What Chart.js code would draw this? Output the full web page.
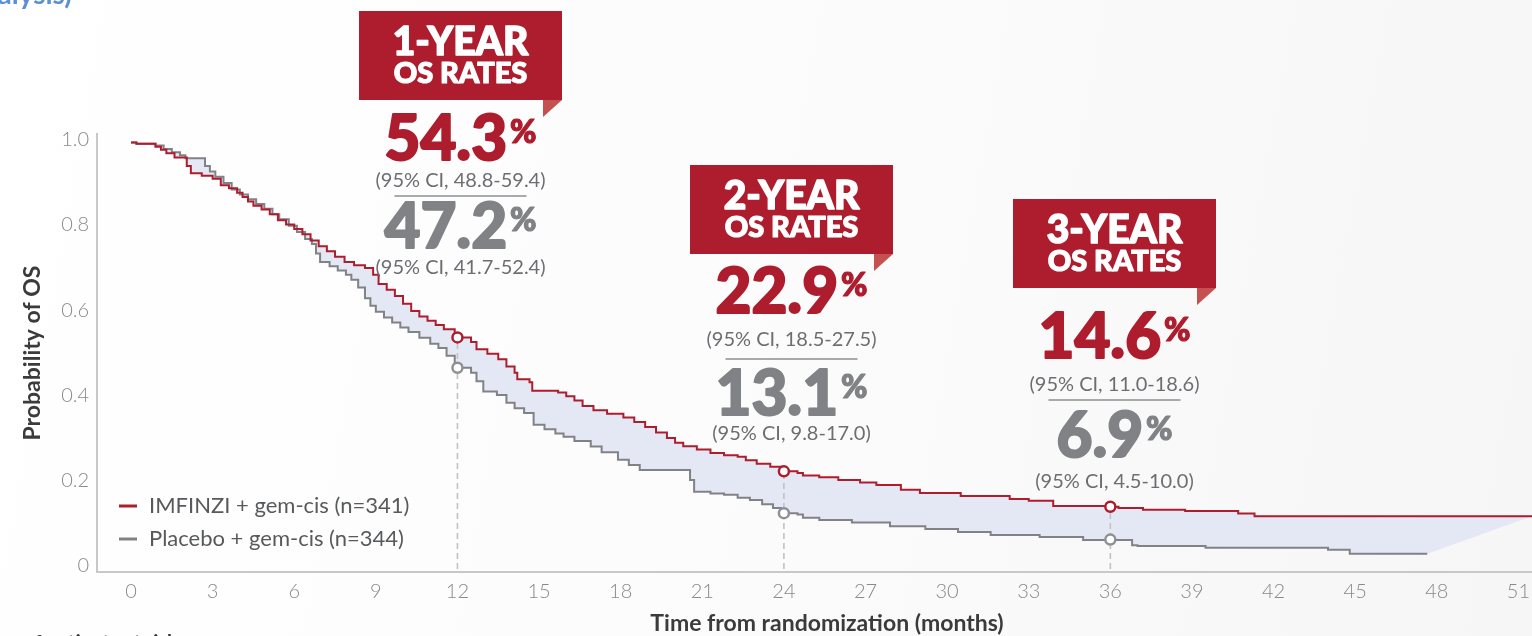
<!DOCTYPE html>
<html>
<head>
<meta charset="utf-8">
<script src="https://cdn.jsdelivr.net/npm/chart.js@4.4.1/dist/chart.umd.min.js"></script>
<style>
  html, body { margin: 0; padding: 0; }
  body {
    width: 1532px; height: 636px; overflow: hidden;
    background: linear-gradient(100deg, #ffffff 0%, #fcfcfc 45%, #f6f6f7 100%);
  }
  #wrap { position: relative; width: 1532px; height: 636px; }
</style>
</head>
<body>
<div id="wrap"><canvas id="osChart" width="1532" height="636"></canvas></div>
<script>
// ----- data -----
const xTicks = [0, 3, 6, 9, 12, 15, 18, 21, 24, 27, 30, 33, 36, 39, 42, 45, 48, 51];
const yTicks = [0, 0.2, 0.4, 0.6, 0.8, 1.0];
const yTickLabels = ["0", "0.2", "0.4", "0.6", "0.8", "1.0"];

// [month, survival] after each step
const imfinziCurve = [
  [0, 1.0], [0.2, 0.997], [0.9, 0.99], [1.1, 0.983], [1.3, 0.975], [1.6, 0.965],
  [2.05, 0.945], [2.2, 0.928], [2.6, 0.922], [3.0, 0.915], [3.3, 0.9], [3.6, 0.893],
  [3.9, 0.882], [4.1, 0.872], [4.3, 0.862], [4.5, 0.852], [4.8, 0.843], [5.1, 0.832],
  [5.4, 0.818], [5.7, 0.808], [6.0, 0.797], [6.3, 0.785], [6.6, 0.77], [6.9, 0.757],
  [7.2, 0.745], [7.5, 0.732], [7.85, 0.72], [8.2, 0.712], [8.6, 0.706], [8.9, 0.69],
  [9.1, 0.668], [9.4, 0.655], [9.7, 0.64], [10.0, 0.622], [10.3, 0.605], [10.6, 0.592],
  [10.9, 0.582], [11.2, 0.572], [11.5, 0.562], [11.9, 0.552], [12.0, 0.543], [12.5, 0.532],
  [12.7, 0.515], [13.1, 0.505], [13.5, 0.492], [13.8, 0.475], [14.1, 0.46], [14.2, 0.445],
  [14.65, 0.438], [14.75, 0.418], [15.7, 0.414], [16.0, 0.405], [16.3, 0.395], [16.6, 0.382],
  [17.0, 0.372], [17.5, 0.364], [18.1, 0.355], [18.5, 0.345], [18.9, 0.333], [19.3, 0.32],
  [19.7, 0.307], [20.0, 0.296], [20.3, 0.288], [20.8, 0.28], [21.3, 0.272], [21.8, 0.267],
  [22.3, 0.263], [22.6, 0.255], [23.0, 0.247], [23.5, 0.24], [23.9, 0.232], [24.0, 0.229],
  [24.5, 0.225], [24.7, 0.219], [25.3, 0.215], [26.0, 0.209], [26.8, 0.203], [27.4, 0.197],
  [28.3, 0.186], [29.0, 0.178], [30.5, 0.171], [32.3, 0.164], [33.0, 0.16], [33.9, 0.148],
  [36.0, 0.146], [36.3, 0.143], [37.2, 0.139], [38.75, 0.136], [40.7, 0.13], [41.3, 0.124],
  [51.5, 0.124]
];

const placeboCurve = [
  [0, 1.0], [0.2, 0.997], [0.9, 0.993], [1.2, 0.985], [1.5, 0.977], [1.8, 0.97],
  [2.0, 0.963], [2.72, 0.945], [2.9, 0.932], [3.1, 0.92], [3.4, 0.905], [3.7, 0.89],
  [4.0, 0.878], [4.3, 0.867], [4.6, 0.856], [4.9, 0.845], [5.2, 0.832], [5.45, 0.82],
  [5.8, 0.805], [6.1, 0.79], [6.4, 0.774], [6.65, 0.762], [6.8, 0.74], [6.95, 0.72],
  [7.3, 0.71], [7.6, 0.7], [7.9, 0.69], [8.1, 0.678], [8.35, 0.66], [8.6, 0.635],
  [8.8, 0.617], [9.0, 0.603], [9.3, 0.59], [9.6, 0.578], [9.9, 0.566], [10.2, 0.556],
  [10.6, 0.542], [11.0, 0.528], [11.3, 0.518], [11.6, 0.5], [11.9, 0.478], [12.0, 0.472],
  [12.5, 0.46], [12.7, 0.44], [12.95, 0.416], [13.45, 0.408], [13.8, 0.39], [14.1, 0.377],
  [14.45, 0.366], [14.8, 0.338], [15.2, 0.328], [15.6, 0.318], [15.9, 0.31], [16.3, 0.3],
  [16.9, 0.287], [17.3, 0.274], [17.9, 0.256], [18.3, 0.244], [18.7, 0.232], [20.55, 0.209],
  [20.7, 0.181], [21.3, 0.177], [21.8, 0.174], [22.3, 0.167], [22.75, 0.162], [23.2, 0.152],
  [23.6, 0.143], [23.9, 0.136], [24.0, 0.131], [24.5, 0.128], [24.7, 0.12], [25.3, 0.115],
  [26.5, 0.109], [27.9, 0.1], [29.2, 0.094], [30.4, 0.087], [31.6, 0.08], [33.4, 0.075],
  [35.0, 0.068], [36.8, 0.056], [37.0, 0.054], [39.5, 0.05], [44.0, 0.045], [44.8, 0.036],
  [47.65, 0.036]
];

const landmarkMonths = [12, 24, 36];
const imfinziRates = [0.543, 0.229, 0.146];
const placeboRates = [0.472, 0.131, 0.069];

const bannerTitles = ["1-YEAR", "2-YEAR", "3-YEAR"];
const imfinziRateText = ["54.3", "22.9", "14.6"];
const imfinziCI = ["(95% CI, 48.8-59.4)", "(95% CI, 18.5-27.5)", "(95% CI, 11.0-18.6)"];
const placeboRateText = ["47.2", "13.1", "6.9"];
const placeboCI = ["(95% CI, 41.7-52.4)", "(95% CI, 9.8-17.0)", "(95% CI, 4.5-10.0)"];

const seriesLabels = ["IMFINZI + gem-cis (n=341)", "Placebo + gem-cis (n=344)"];

// ----- styling -----
const RED = "#ad1d2e";
const GRAY = "#808285";
const FILL = "#e4e8f5";
const FONT = "Lato, 'Open Sans', sans-serif";

// banner placement (pixels): box left/top, then baselines / centres of the text rows below it
const bannerLayout = [
  { left: 359, top: 11, num1: 160, ci1: 181, sep: 196, num2: 248, ci2: 268 },
  { left: 690, top: 165, num1: 313, ci1: 340, sep: 359, num2: 415, ci2: 434 },
  { left: 1013, top: 199, num1: 358, ci1: 385, sep: 400, num2: 457, ci2: 482 }
];

function toPoints(curve) {
  return curve.map(([x, y]) => ({ x, y }));
}

// corner points of a step curve, so the fill edge can end on a diagonal like the original
function expandSteps(curve) {
  const pts = [];
  curve.forEach(([x, y], i) => {
    if (i > 0) pts.push({ x, y: curve[i - 1][1] });
    pts.push({ x, y });
  });
  return pts;
}

const lastRed = imfinziCurve[imfinziCurve.length - 1];
const fillBoundary = expandSteps(placeboCurve).concat([{ x: lastRed[0], y: lastRed[1] }]);

const dashSets = landmarkMonths.map((m, i) => ({
  data: [{ x: m, y: 0 }, { x: m, y: imfinziRates[i] }],
  borderColor: "#c2c2c4",
  borderWidth: 1.6,
  borderDash: [6, 4],
  pointRadius: 0,
  order: 3
}));

const datasets = [
  {
    data: landmarkMonths.map((m, i) => ({ x: m, y: imfinziRates[i] })),
    showLine: false,
    pointRadius: 5,
    pointBorderWidth: 2.5,
    pointBackgroundColor: "#ffffff",
    pointBorderColor: RED,
    order: 0
  },
  {
    data: landmarkMonths.map((m, i) => ({ x: m, y: placeboRates[i] })),
    showLine: false,
    pointRadius: 5,
    pointBorderWidth: 2.5,
    pointBackgroundColor: "#ffffff",
    pointBorderColor: "#8e9093",
    order: 0
  },
  {
    label: seriesLabels[0],
    legend: true,
    data: toPoints(imfinziCurve),
    stepped: true,
    borderColor: RED,
    borderWidth: 2,
    pointRadius: 0,
    fill: { target: 0, above: FILL, below: FILL }, // target set below
    order: 1
  },
  {
    label: seriesLabels[1],
    legend: true,
    data: toPoints(placeboCurve),
    stepped: true,
    borderColor: GRAY,
    borderWidth: 2,
    pointRadius: 0,
    order: 2
  },
  ...dashSets,
  {
    data: fillBoundary,
    borderWidth: 0,
    borderColor: "rgba(0,0,0,0)",
    pointRadius: 0,
    order: 5
  }
];
datasets[2].fill.target = datasets.length - 1;

// ----- drawing helpers for the annotations -----
// fill + thin stroke of the same colour, to get closer to the heavy weight of the original
function heavyText(ctx, text, x, y, color, weight) {
  ctx.fillStyle = color;
  ctx.strokeStyle = color;
  ctx.lineWidth = weight;
  ctx.lineJoin = "round";
  ctx.fillText(text, x, y);
  ctx.strokeText(text, x, y);
}

function drawRate(ctx, cx, baseline, text, color) {
  ctx.font = "900 62px " + FONT;
  const w1 = ctx.measureText(text).width;
  ctx.font = "900 32px " + FONT;
  const w2 = ctx.measureText("%").width;
  const start = cx - (w1 + w2 + 3) / 2;
  ctx.textAlign = "left";
  ctx.textBaseline = "alphabetic";
  ctx.font = "900 62px " + FONT;
  heavyText(ctx, text, start, baseline, color, 2);
  ctx.font = "900 32px " + FONT;
  heavyText(ctx, "%", start + w1 + 3, baseline - 17, color, 1.2);
}

function drawBanner(ctx, b, i) {
  const w = 203, h = 89, fold = 19;
  const cx = b.left + w / 2;
  ctx.fillStyle = RED;
  ctx.fillRect(b.left, b.top, w, h);
  ctx.fillStyle = "#c4514f";
  ctx.beginPath();
  ctx.moveTo(b.left + w - fold, b.top + h);
  ctx.lineTo(b.left + w, b.top + h);
  ctx.lineTo(b.left + w - fold, b.top + h + 17);
  ctx.closePath();
  ctx.fill();

  ctx.textAlign = "center";
  ctx.textBaseline = "alphabetic";
  ctx.font = "900 39px " + FONT;
  heavyText(ctx, bannerTitles[i], cx, b.top + 44, "#ffffff", 1.5);
  ctx.font = "900 29px " + FONT;
  heavyText(ctx, "OS RATES", cx, b.top + 72, "#ffffff", 1.2);

  drawRate(ctx, cx, b.num1, imfinziRateText[i], RED);
  drawRate(ctx, cx, b.num2, placeboRateText[i], GRAY);

  ctx.fillStyle = "#6d6e71";
  ctx.font = "400 20px " + FONT;
  ctx.textAlign = "center";
  ctx.textBaseline = "middle";
  ctx.fillText(imfinziCI[i], cx, b.ci1);
  ctx.fillText(placeboCI[i], cx, b.ci2);

  ctx.strokeStyle = "#8d8e91";
  ctx.lineWidth = 1.5;
  ctx.beginPath();
  ctx.moveTo(cx - 66, b.sep);
  ctx.lineTo(cx + 66, b.sep);
  ctx.stroke();
}

const overlayPlugin = {
  id: "overlay",
  afterDraw(chart) {
    const ctx = chart.ctx;
    ctx.save();

    bannerLayout.forEach((b, i) => drawBanner(ctx, b, i));

    // legend inside the plot
    const items = chart.data.datasets.filter(d => d.legend);
    items.forEach((d, i) => {
      const y = 506 + i * 33;
      ctx.strokeStyle = d.borderColor;
      ctx.lineWidth = 3;
      ctx.beginPath();
      ctx.moveTo(119, y);
      ctx.lineTo(137, y);
      ctx.stroke();
      ctx.fillStyle = "#58595b";
      ctx.font = "400 22px " + FONT;
      ctx.textAlign = "left";
      ctx.textBaseline = "middle";
      ctx.fillText(d.label, 149, y);
    });

    // x axis title
    ctx.fillStyle = "#3b3b3d";
    ctx.font = "700 23px " + FONT;
    ctx.textAlign = "center";
    ctx.textBaseline = "middle";
    ctx.fillText("Time from randomization (months)", 827, 624);

    // cropped text from the surrounding page
    ctx.fillStyle = "#5b8fd6";
    ctx.font = "700 28px " + FONT;
    ctx.textAlign = "right";
    ctx.textBaseline = "alphabetic";
    ctx.fillText("Analysis)", 72, 4);

    ctx.fillStyle = "#333333";
    ctx.font = "700 20px " + FONT;
    ctx.textAlign = "left";
    ctx.fillText("of patients at risk", 23, 650);

    ctx.restore();
  }
};

const ctx = document.getElementById("osChart");

const chart = new Chart(ctx, {
  type: "line",
  data: { datasets },
  plugins: [overlayPlugin],
  options: {
    responsive: false,
    animation: false,
    layout: { autoPadding: false, padding: { top: 134, right: 0, bottom: 0, left: 0 } },
    plugins: {
      legend: { display: false },
      tooltip: { enabled: false },
      filler: { drawTime: "beforeDatasetsDraw" }
    },
    scales: {
      x: {
        type: "linear",
        min: -1.25,
        max: 51.5,
        grid: { display: false, drawTicks: false },
        border: { display: true, color: "#c8c8c9", width: 2 },
        ticks: {
          color: "#8a8a8c",
          font: { family: FONT, size: 20, weight: "300" },
          padding: 8,
          maxRotation: 0,
          autoSkip: false,
          callback: v => String(v)
        },
        afterBuildTicks: axis => { axis.ticks = xTicks.map(v => ({ value: v })); },
        afterFit: axis => {
          axis.height = 64;
          axis.paddingLeft = 0;
          axis.paddingRight = 0;
        }
      },
      y: {
        type: "linear",
        min: -0.007,
        max: 1.02,
        grid: { display: false, drawTicks: false },
        border: { display: true, color: "#c8c8c9", width: 2 },
        ticks: {
          color: "#8a8a8c",
          font: { family: FONT, size: 20, weight: "300" },
          padding: 8,
          labelOffset: -3,
          callback: (v, i) => yTickLabels[i]
        },
        afterBuildTicks: axis => { axis.ticks = yTicks.map(v => ({ value: v })); },
        afterFit: axis => {
          axis.width = 97;
          axis.paddingTop = 0;
          axis.paddingBottom = 0;
        },
        title: {
          display: true,
          text: "Probability of OS",
          color: "#3b3b3d",
          font: { family: FONT, size: 23, weight: "bold" },
          padding: { top: 19, bottom: 0 }
        }
      }
    }
  }
});
</script>
</body>
</html>
